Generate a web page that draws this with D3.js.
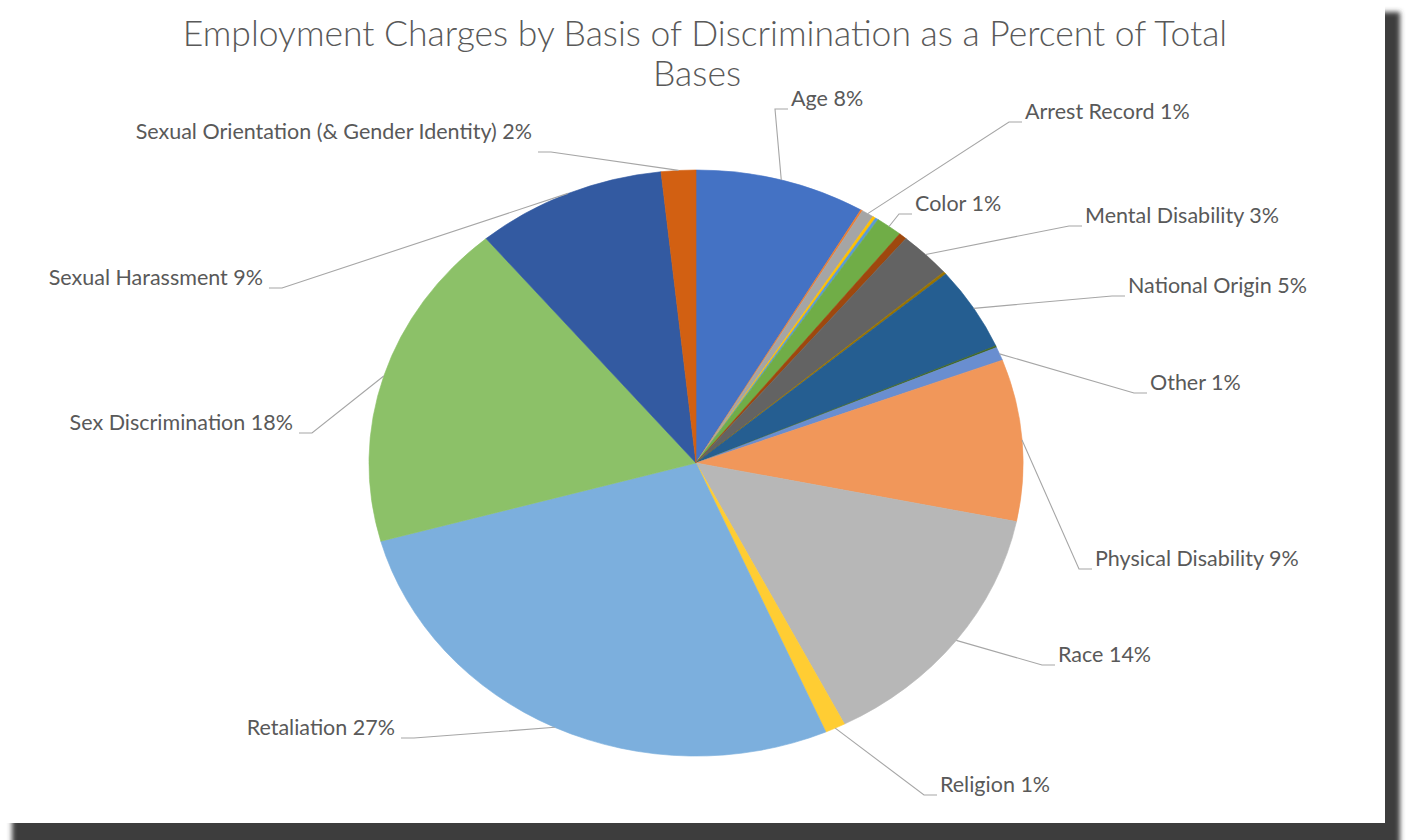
<!DOCTYPE html>
<html>
<head>
<meta charset="utf-8">
<script src="https://cdn.jsdelivr.net/npm/d3@7"></script>
<style>
  html, body { margin: 0; padding: 0; background: #ffffff; }
  svg { display: block; }
</style>
</head>
<body>
<svg id="chart" width="1408" height="840"></svg>
<script>
// Bases of discrimination, in chart order (clockwise from 12 o'clock)
const categories = [
  "Age", "Ancestry", "Arrest Record", "Breastfeeding", "Citizenship", "Color",
  "Marital Status", "Mental Disability", "Military Status", "National Origin",
  "Off-Duty Conduct", "Other", "Physical Disability", "Race", "Religion",
  "Retaliation", "Sex Discrimination", "Sexual Harassment",
  "Sexual Orientation (& Gender Identity)"
];

// Share of total bases, percent
const shares = [
  8.4, 0.1, 0.6, 0.15, 0.15, 1.3,
  0.4, 2.6, 0.15, 4.6,
  0.1, 0.75, 8.9, 14.3, 1.0,
  27.2, 18.2, 9.4,
  1.7
];

// Slice fills
const sliceColors = [
  "#4472C4", "#ED7D31", "#A5A5A5", "#FFC000", "#5B9BD5", "#70AD47",
  "#9E480E", "#636363", "#997300", "#255E91",
  "#43682B", "#698ED0", "#F1975A", "#B7B7B7", "#FFCD33",
  "#7CAFDD", "#8CC168", "#335AA1",
  "#D26012"
];

// Bases that carry a data label
const labelledBases = [
  "Age", "Arrest Record", "Color", "Mental Disability", "National Origin", "Other",
  "Physical Disability", "Race", "Religion", "Retaliation", "Sex Discrimination",
  "Sexual Harassment", "Sexual Orientation (& Gender Identity)"
];

const titleLines = [
  "Employment Charges by Basis of Discrimination as a Percent of Total",
  "Bases"
];

// ---- layout ----
const W = 1408, H = 840;
const card = { w: 1385, h: 823 };
const cx = 696, cy = 463, rx = 327, ry = 293;

// label placement: text anchor point (baseline) and alignment
const labelLayout = {
  "Age":                 { x: 791,  y: 106, anchor: "start" },
  "Arrest Record":       { x: 1025, y: 119, anchor: "start" },
  "Color":               { x: 915,  y: 211, anchor: "start" },
  "Mental Disability":   { x: 1085, y: 223, anchor: "start" },
  "National Origin":     { x: 1128, y: 293, anchor: "start" },
  "Other":               { x: 1150, y: 390, anchor: "start" },
  "Physical Disability": { x: 1095, y: 566, anchor: "start" },
  "Race":                { x: 1058, y: 662, anchor: "start" },
  "Religion":            { x: 940,  y: 792, anchor: "start" },
  "Retaliation":         { x: 395,  y: 735, anchor: "end" },
  "Sex Discrimination":  { x: 293,  y: 430, anchor: "end" },
  "Sexual Harassment":   { x: 263,  y: 285, anchor: "end" },
  "Sexual Orientation (& Gender Identity)": { x: 532, y: 139, anchor: "end", drop: 10 }
};

const svg = d3.select("#chart");

// drop shadow behind the chart card
const defs = svg.append("defs");
defs.append("filter").attr("id", "shadowBlur")
  .attr("x", "-5%").attr("y", "-5%").attr("width", "110%").attr("height", "110%")
  .append("feGaussianBlur").attr("stdDeviation", 2.5);

svg.append("rect").attr("width", W).attr("height", H).attr("fill", "#ffffff");
svg.append("rect")
  .attr("x", 12).attr("y", 12).attr("width", card.w + 3).attr("height", card.h + 11)
  .attr("fill", "#3c3c3c").attr("filter", "url(#shadowBlur)");
svg.append("rect")
  .attr("x", 0).attr("y", 0).attr("width", card.w).attr("height", card.h)
  .attr("fill", "#ffffff");

// title
svg.append("g").selectAll("text").data(titleLines).join("text")
  .attr("x", (d, i) => i === 0 ? 705 : 697)
  .attr("y", (d, i) => 46 + i * 40)
  .attr("text-anchor", "middle")
  .attr("font-family", "Lato, 'Open Sans', sans-serif")
  .attr("font-weight", 300)
  .attr("font-size", 35.5)
  .attr("fill", "#595959")
  .text(d => d);

// pie geometry: unit circle mapped to an ellipse through linear scales
const xScale = d3.scaleLinear().domain([-1, 1]).range([cx - rx, cx + rx]);
const yScale = d3.scaleLinear().domain([-1, 1]).range([cy - ry, cy + ry]);

const rows = categories.map((name, i) => ({ name, share: shares[i], color: sliceColors[i] }));
const pie = d3.pie().sort(null).value(d => d.share);
const arcs = pie(rows);

const arc = d3.arc().innerRadius(0).outerRadius(1);

const pieG = svg.append("g")
  .attr("transform", `translate(${xScale(0)},${yScale(0)}) scale(${(xScale(1) - xScale(0))},${(yScale(1) - yScale(0))})`);

pieG.selectAll("path").data(arcs).join("path")
  .attr("d", arc)
  .attr("fill", d => d.data.color)
  .attr("stroke", d => d.data.color)
  .attr("stroke-width", 0.002);

// labels with leader lines
const labelled = arcs.filter(d => labelledBases.includes(d.data.name));

const edgePoint = d => {
  const a = (d.startAngle + d.endAngle) / 2;
  return [xScale(Math.sin(a)), yScale(-Math.cos(a))];
};

const leaderG = svg.append("g");
const labelG = svg.append("g");

labelled.forEach(d => {
  const L = labelLayout[d.data.name];
  const [ex, ey] = edgePoint(d);
  const dir = L.anchor === "start" ? -1 : 1;
  const gap = L.anchor === "start" ? 3 : 6;
  const endX = L.x + dir * gap;
  const endY = L.y + 3 + (L.drop || 0);
  const elbowX = endX + dir * 13;
  leaderG.append("path")
    .attr("d", d3.line()([[ex, ey], [elbowX, endY], [endX, endY]]))
    .attr("fill", "none")
    .attr("stroke", "#a6a6a6")
    .attr("stroke-width", 1.1);

  labelG.append("text")
    .attr("x", L.x).attr("y", L.y)
    .attr("text-anchor", L.anchor)
    .attr("font-family", "Lato, 'Open Sans', sans-serif")
    .attr("font-size", 21.5)
    .attr("fill", "#595959")
    .text(`${d.data.name} ${Math.round(d.data.share)}%`);
});
</script>
</body>
</html>
